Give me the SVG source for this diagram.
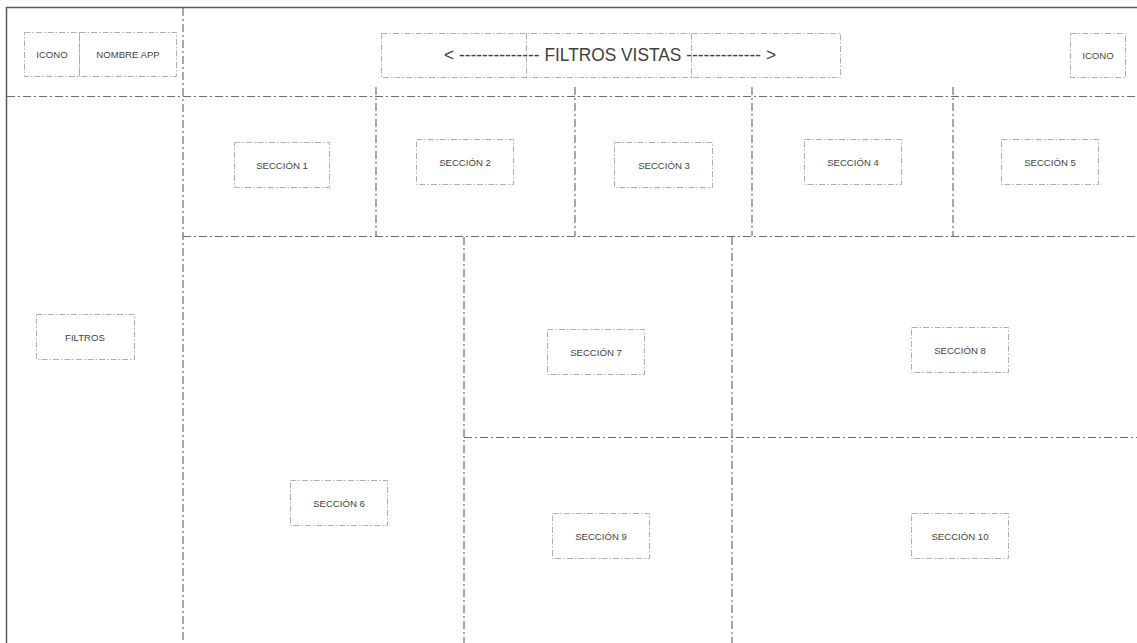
<svg xmlns="http://www.w3.org/2000/svg" width="1137" height="643" viewBox="0 0 1137 643">
<style>
.bg{fill:#ffffff}
.border{fill:none;stroke:#5a5a5a;stroke-width:1.5}
.div{fill:none;stroke:#6e6e6e;stroke-width:1.2;stroke-dasharray:8 3 2 3}
.box{fill:none;stroke:#b0b0b0;stroke-width:1;stroke-dasharray:6 2 1.5 2}
.lbl{font-family:"Liberation Sans",Arial,sans-serif;font-size:9.6px;fill:#444444;text-anchor:middle;dominant-baseline:central}
.big{font-family:"Liberation Sans",Arial,sans-serif;font-size:18px;fill:#404040;text-anchor:middle;dominant-baseline:central}
</style>
<rect class="bg" x="0" y="0" width="1137" height="643"/>
<g id="connectors">
<path class="border" d="M6.5,643 V7.5 H1137"/>
<path class="div" d="M183,8 V643"/>
<path class="div" d="M7,96.5 H1137"/>
<path class="div" d="M183,236.5 H1137"/>
<path class="div" d="M464,437.5 H1137"/>
<path class="div" d="M376,87 V236"/>
<path class="div" d="M575,87 V236"/>
<path class="div" d="M752,87 V236"/>
<path class="div" d="M953,87 V236"/>
<path class="div" d="M464,237 V643"/>
<path class="div" d="M732,237 V643"/>
</g>
<g id="icono-left"><rect class="box" x="24.5" y="32.5" width="55" height="44"/><text class="lbl" x="52" y="54" font-size="10">ICONO</text></g>
<g id="nombre-app"><rect class="box" x="79.5" y="32.5" width="97" height="44"/><text class="lbl" x="128" y="54">NOMBRE APP</text></g>
<g id="filtros-vistas">
<rect class="box" x="381.5" y="33.5" width="459" height="44"/>
<path class="box" d="M526.5,33.5 V77.5 M691.5,33.5 V77.5"/>
<text class="big" x="610" y="55" textLength="332" lengthAdjust="spacingAndGlyphs">&lt; -------------- FILTROS VISTAS ------------- &gt;</text>
</g>
<g id="icono-right"><rect class="box" x="1070.5" y="33.5" width="55" height="44"/><text class="lbl" x="1098" y="55">ICONO</text></g>
<g id="filtros"><rect class="box" x="36.5" y="314.5" width="98" height="45"/><text class="lbl" x="85" y="337" font-size="10.5">FILTROS</text></g>
<g id="seccion1"><rect class="box" x="234.5" y="142.5" width="95" height="45"/><text class="lbl" x="282" y="165">SECCIÓN 1</text></g>
<g id="seccion2"><rect class="box" x="416.5" y="139.5" width="97" height="45"/><text class="lbl" x="465" y="162">SECCIÓN 2</text></g>
<g id="seccion3"><rect class="box" x="614.5" y="142.5" width="98" height="45"/><text class="lbl" x="664" y="165">SECCIÓN 3</text></g>
<g id="seccion4"><rect class="box" x="804.5" y="139.5" width="97" height="45"/><text class="lbl" x="853" y="162">SECCIÓN 4</text></g>
<g id="seccion5"><rect class="box" x="1001.5" y="139.5" width="97" height="45"/><text class="lbl" x="1050" y="162">SECCIÓN 5</text></g>
<g id="seccion6"><rect class="box" x="290.5" y="480.5" width="97" height="45"/><text class="lbl" x="339" y="503">SECCIÓN 6</text></g>
<g id="seccion7"><rect class="box" x="547.5" y="329.5" width="97" height="45"/><text class="lbl" x="596" y="352">SECCIÓN 7</text></g>
<g id="seccion8"><rect class="box" x="911.5" y="327.5" width="97" height="45"/><text class="lbl" x="960" y="350">SECCIÓN 8</text></g>
<g id="seccion9"><rect class="box" x="552.5" y="513.5" width="97" height="45"/><text class="lbl" x="601" y="536">SECCIÓN 9</text></g>
<g id="seccion10"><rect class="box" x="911.5" y="513.5" width="97" height="45"/><text class="lbl" x="960" y="536">SECCIÓN 10</text></g>
</svg>
